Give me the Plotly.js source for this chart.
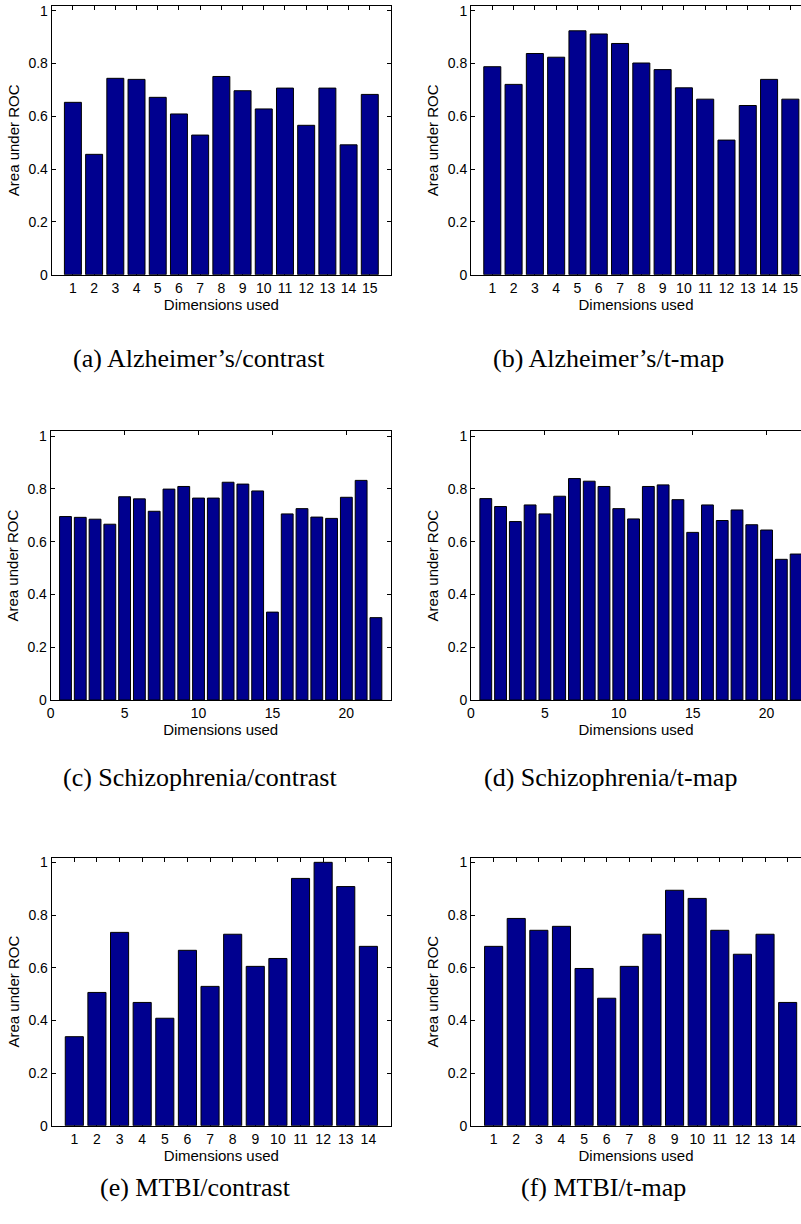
<!DOCTYPE html>
<html>
<head>
<meta charset="utf-8">
<script src="https://cdn.plot.ly/plotly-3.0.1.min.js"></script>
<style>html,body{margin:0;padding:0;background:#fff;}#chart{width:801px;height:1224px;}</style>
</head>
<body>
<div id="chart"></div>
<script>
// ---- data ----
const dims15 = [1,2,3,4,5,6,7,8,9,10,11,12,13,14,15];
const dims22 = [1,2,3,4,5,6,7,8,9,10,11,12,13,14,15,16,17,18,19,20,21,22];
const dims14 = [1,2,3,4,5,6,7,8,9,10,11,12,13,14];
const aucAlzContrast = [0.653,0.456,0.744,0.740,0.672,0.609,0.529,0.751,0.697,0.628,0.707,0.566,0.707,0.492,0.683];
const aucAlzTmap = [0.788,0.721,0.838,0.824,0.924,0.912,0.876,0.802,0.777,0.708,0.665,0.510,0.641,0.740,0.665];
const aucSchContrast = [0.695,0.692,0.685,0.666,0.770,0.762,0.715,0.799,0.809,0.765,0.765,0.825,0.818,0.792,0.333,0.705,0.725,0.693,0.688,0.768,0.832,0.312];
const aucSchTmap = [0.763,0.733,0.676,0.739,0.705,0.772,0.839,0.829,0.809,0.725,0.686,0.809,0.815,0.759,0.635,0.739,0.680,0.720,0.664,0.644,0.533,0.553];
const aucMtbiContrast = [0.338,0.506,0.734,0.468,0.408,0.666,0.529,0.727,0.605,0.635,0.939,1.0,0.908,0.681];
const aucMtbiTmap = [0.681,0.787,0.742,0.757,0.597,0.484,0.605,0.727,0.894,0.863,0.742,0.651,0.727,0.468];
const yTicks = [0,0.2,0.4,0.6,0.8,1];
const yTickText = ['0','0.2','0.4','0.6','0.8','1'];
const xTicksSch = [0,5,10,15,20];
const captions = ['(a) Alzheimer’s/contrast','(b) Alzheimer’s/t-map','(c) Schizophrenia/contrast','(d) Schizophrenia/t-map','(e) MTBI/contrast','(f) MTBI/t-map'];
const xTitle = 'Dimensions used';
const yTitle = 'Area under ROC';

// ---- layout geometry ----
const W = 801, H = 1224;
const px = v => v / W;
const py = v => 1 - v / H;
const panels = [
  {x: dims15, y: aucAlzContrast,  xd:[51.7,391], yd:[274.7,6.0],   xr:[0,16],    ticks:dims15,   right:false},
  {x: dims15, y: aucAlzTmap,      xd:[471,801],  yd:[274.7,6.0],   xr:[0,15.5],  ticks:dims15,   right:true},
  {x: dims22, y: aucSchContrast,  xd:[50.7,390.7], yd:[700,431.3], xr:[0,23],    ticks:xTicksSch, right:false},
  {x: dims22, y: aucSchTmap,      xd:[471,801],  yd:[700,431.3],   xr:[0,22.33], ticks:xTicksSch, right:true},
  {x: dims14, y: aucMtbiContrast, xd:[51.7,391], yd:[1125.7,857.6], xr:[0,15],   ticks:dims14,   right:false},
  {x: dims14, y: aucMtbiTmap,     xd:[471,801],  yd:[1125.7,857.6], xr:[0,14.59], ticks:dims14,  right:true}
];
const capPos = [[199,358],[608,358],[200,777],[610,777],[195,1187],[603,1187]];

const tickFont = {family:'Liberation Sans, Arial, sans-serif', size:14, color:'#000'};
const titleFont = {family:'Liberation Sans, Arial, sans-serif', size:15, color:'#000'};

const data = [];
const layout = {
  width: W, height: H,
  margin: {l:0, r:0, t:0, b:0},
  paper_bgcolor: '#fff', plot_bgcolor: '#fff',
  showlegend: false,
  bargap: 0.2,
  annotations: []
};

panels.forEach((p, i) => {
  const n = i + 1;
  const xa = n === 1 ? 'x' : 'x' + n;
  const ya = n === 1 ? 'y' : 'y' + n;
  data.push({
    type: 'bar', x: p.x, y: p.y, xaxis: xa, yaxis: ya,
    width: 0.8,
    marker: {color: '#00008F', line: {color: '#000', width: 1}},
    hoverinfo: 'x+y'
  });
  const xKey = n === 1 ? 'xaxis' : 'xaxis' + n;
  const yKey = n === 1 ? 'yaxis' : 'yaxis' + n;
  layout[xKey] = {
    domain: [px(p.xd[0]), px(p.xd[1])],
    anchor: ya,
    range: p.xr,
    tickmode: 'array', tickvals: p.ticks, ticktext: p.ticks.map(String),
    ticks: 'inside', ticklen: 4, tickcolor: '#000', tickwidth: 1,
    showline: true, linecolor: '#000', linewidth: 1, mirror: 'ticks',
    showgrid: false, zeroline: false,
    tickfont: tickFont,
    layer: 'below traces',
    title: {text: xTitle, font: titleFont, standoff: 1}
  };
  layout[yKey] = {
    domain: [py(p.yd[0]), py(p.yd[1])],
    anchor: xa,
    range: [0, 1.018],
    tickmode: 'array', tickvals: yTicks, ticktext: yTickText,
    ticks: 'inside', ticklen: 4, tickcolor: '#000', tickwidth: 1,
    showline: true, linecolor: '#000', linewidth: 1, mirror: p.right ? false : 'ticks',
    showgrid: false, zeroline: false,
    tickfont: tickFont,
    title: {text: yTitle, font: titleFont, standoff: 5}
  };
  layout.annotations.push({
    xref: 'paper', yref: 'paper',
    x: px(capPos[i][0]), y: py(capPos[i][1]),
    xanchor: 'center', yanchor: 'middle',
    text: captions[i], showarrow: false,
    font: {family: 'Liberation Serif, Times New Roman, serif', size: 26, color: '#000'}
  });
});

Plotly.newPlot('chart', data, layout, {staticPlot: true, displayModeBar: false});
</script>
</body>
</html>
